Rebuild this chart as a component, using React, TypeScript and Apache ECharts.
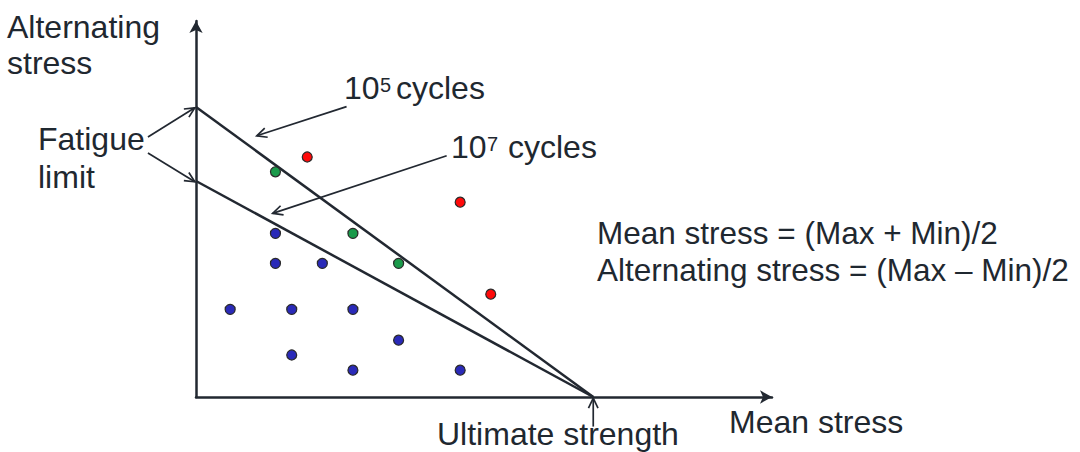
import React, { useEffect, useRef } from "react";
import * as echarts from "echarts";

// ---- data (arbitrary stress units) ----
const ULTIMATE = 100;
const FATIGUE_1E5 = 72.5;
const FATIGUE_1E7 = 54;
const X_MAX = 145;
const Y_MAX = 94;

const line1e5 = [
  [0, FATIGUE_1E5],
  [ULTIMATE, 0],
];
const line1e7 = [
  [0, FATIGUE_1E7],
  [ULTIMATE, 0],
];

const redPoints = [
  [28, 60],
  [66.5, 48.7],
  [74.2, 25.7],
];
const greenPoints = [
  [20, 56.3],
  [39.5, 40.9],
  [51, 33.4],
];
const bluePoints = [
  [20, 40.9],
  [20, 33.4],
  [31.8, 33.4],
  [8.6, 21.9],
  [24.1, 21.9],
  [39.5, 21.9],
  [51, 14.2],
  [24.1, 10.5],
  [39.5, 6.7],
  [66.5, 6.7],
];

// annotation arrows: [tailX, tailY, headX, headY] in data units
const arrowData = [
  [-12.1, 65, -0.3, 72.3],
  [-12.1, 61, -0.3, 53.8],
  [37.9, 72.6, 15.3, 65.3],
  [63.1, 60.3, 19.3, 45.9],
  [ULTIMATE, -7.4, ULTIMATE, -0.3],
];

const INK = "#222831";
const TEXT = "#1f2830";
const FONT = "Liberation Sans";
const FS = 32;

function txt(text: string, x: number, baseline: number, size = FS) {
  return {
    type: "text",
    x,
    y: baseline - 0.3465 * size,
    style: {
      text,
      fill: TEXT,
      fontSize: size,
      fontFamily: FONT,
      align: "left",
      verticalAlign: "middle",
    },
    silent: true,
  };
}

export default function App() {
  const ref = useRef<HTMLDivElement>(null);
  useEffect(() => {
    if (!ref.current) return;
    const chart = echarts.init(ref.current, null, { renderer: "svg" });
    const axisCommon = {
      type: "value",
      min: 0,
      axisLine: {
        show: true,
        onZero: false,
        symbol: ["none", "arrow"],
        symbolSize: [10, 12],
        lineStyle: { color: INK, width: 2.5 },
      },
      axisTick: { show: false },
      axisLabel: { show: false },
      splitLine: { show: false },
    };
    const dot = (data: number[][], color: string) => ({
      type: "scatter",
      data,
      symbol: "circle",
      symbolSize: 10,
      itemStyle: { color, borderColor: "#2a2a2a", borderWidth: 1.2, opacity: 1 },
      z: 5,
    });
    chart.setOption({
      animation: false,
      backgroundColor: "#ffffff",
      grid: { left: 196, right: 308, top: 21, bottom: 55 },
      xAxis: { ...axisCommon, max: X_MAX },
      yAxis: { ...axisCommon, max: Y_MAX },
      series: [
        {
          type: "line",
          data: line1e5,
          showSymbol: false,
          lineStyle: { color: INK, width: 2.5 },
          z: 3,
        },
        {
          type: "line",
          data: line1e7,
          showSymbol: false,
          lineStyle: { color: INK, width: 2.5 },
          z: 3,
        },
        dot(redPoints, "#ff0a0a"),
        dot(greenPoints, "#1a9a4a"),
        dot(bluePoints, "#2a2ab8"),
        {
          type: "custom",
          data: arrowData,
          encode: { x: [0, 2], y: [1, 3] },
          clip: false,
          z: 4,
          renderItem: (params: any, api: any) => {
            const p1 = api.coord([api.value(0), api.value(1)]);
            const p2 = api.coord([api.value(2), api.value(3)]);
            const ang = Math.atan2(p2[1] - p1[1], p2[0] - p1[0]);
            const L = 11;
            const a = Math.PI / 7;
            const h1 = [p2[0] - L * Math.cos(ang - a), p2[1] - L * Math.sin(ang - a)];
            const h2 = [p2[0] - L * Math.cos(ang + a), p2[1] - L * Math.sin(ang + a)];
            return {
              type: "group",
              children: [
                {
                  type: "line",
                  shape: { x1: p1[0], y1: p1[1], x2: p2[0], y2: p2[1] },
                  style: { stroke: INK, lineWidth: 1.7 },
                },
                {
                  type: "polyline",
                  shape: { points: [h1, p2, h2] },
                  style: { stroke: INK, lineWidth: 1.7, fill: "none" },
                },
              ],
            };
          },
        },
      ],
      graphic: [
        txt("Alternating", 7, 38),
        txt("stress", 7, 74),
        txt("Fatigue", 38, 150),
        txt("limit", 38, 188),
        txt("10", 344, 99),
        txt("5", 380, 92, 20),
        txt("cycles", 396, 99),
        txt("10", 451, 158),
        txt("7", 487, 151, 20),
        txt("cycles", 508, 158),
        txt("Mean stress = (Max + Min)/2", 597, 244, 31.5),
        txt("Alternating stress = (Max \u2013 Min)/2", 597, 280.5, 31.5),
        txt("Mean stress", 729, 433),
        txt("Ultimate strength", 437, 445),
      ],
    });
    return () => chart.dispose();
  }, []);
  return (
    <div
      ref={ref}
      style={{ position: "fixed", left: 0, top: 0, width: 1080, height: 452, background: "#fff" }}
    />
  );
}
